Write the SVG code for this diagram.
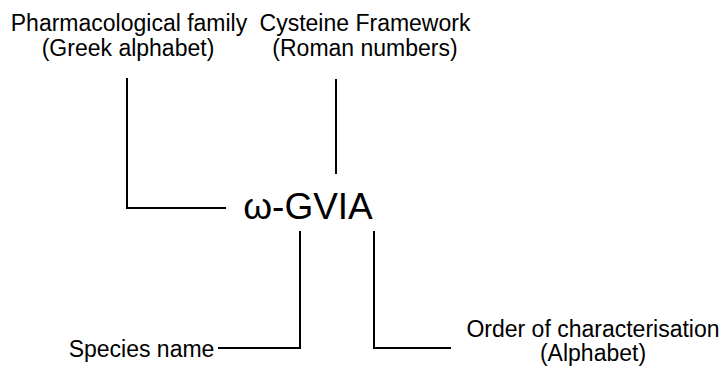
<svg xmlns="http://www.w3.org/2000/svg" width="720" height="368" viewBox="0 0 720 368">
<style>
text{font-family:"Liberation Sans",Arial,Helvetica,sans-serif;fill:#000;text-anchor:middle}
.l{font-size:23px}
.big{font-size:37px}
.c{fill:none;stroke:#000;stroke-width:2}
</style>
<rect width="720" height="368" fill="#fff"/>
<g id="connectors">
<polyline class="c" points="127,78 127,208 226,208"/>
<line class="c" x1="336" y1="79" x2="336" y2="174"/>
<polyline class="c" points="218,348 300,348 300,231"/>
<polyline class="c" points="374,231 374,348 451,348"/>
</g>
<g id="family">
<text class="l" x="129" y="31">Pharmacological family</text>
<text class="l" x="128" y="56">(Greek alphabet)</text>
</g>
<g id="framework">
<text class="l" x="365" y="31">Cysteine Framework</text>
<text class="l" x="365" y="56">(Roman numbers)</text>
</g>
<g id="name">
<text class="big" x="308" y="219">ω-GVIA</text>
</g>
<g id="species">
<text class="l" x="141.5" y="357">Species name</text>
</g>
<g id="order">
<text class="l" x="593" y="337">Order of characterisation</text>
<text class="l" x="593" y="361">(Alphabet)</text>
</g>
</svg>
